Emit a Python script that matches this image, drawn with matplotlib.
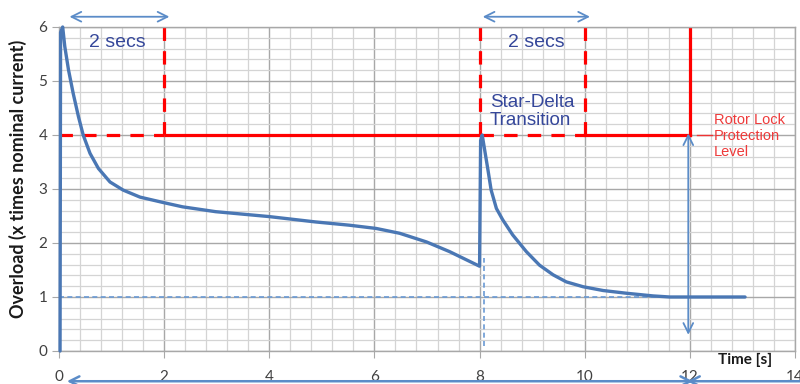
import matplotlib
matplotlib.use("Agg")
import matplotlib.pyplot as plt
from matplotlib.ticker import MultipleLocator

# ---- data ----
curve_x = [0.02, 0.03, 0.07, 0.11, 0.18, 0.27, 0.37, 0.46, 0.59, 0.75, 0.97, 1.22,
           1.54, 1.98, 2.35, 2.98, 3.99, 4.88, 5.52, 6.03, 6.48, 6.99, 7.43, 8.00,
           8.02, 8.05, 8.16, 8.22, 8.32, 8.44, 8.63, 8.89, 9.14, 9.40, 9.65, 9.97,
           10.35, 10.79, 11.30, 11.62, 13.05]
curve_y = [0.00, 5.90, 6.00, 5.64, 5.21, 4.77, 4.34, 4.00, 3.66, 3.38, 3.13, 2.98,
           2.85, 2.75, 2.67, 2.58, 2.49, 2.39, 2.33, 2.27, 2.18, 2.02, 1.84, 1.57,
           3.90, 4.00, 3.35, 2.98, 2.64, 2.43, 2.15, 1.84, 1.59, 1.41, 1.28, 1.19,
           1.12, 1.07, 1.02, 1.00, 1.00]

protection_level = 4
nominal_level = 1
window1 = (0, 2)        # first 2 s window
window2 = (8, 10)       # star-delta 2 s window
lock_time = 12
transition_time = 8.08
nominal_reach = 11.6

xticks = [0, 2, 4, 6, 8, 10, 12, 14]
yticks = [0, 1, 2, 3, 4, 5, 6]

W, H = 800, 384
fig = plt.figure(figsize=(W / 100, H / 100), dpi=100)
ax = fig.add_axes([59 / W, 33 / H, (795 - 59) / W, (351 - 27) / H])
ax.set_xlim(0, 14)
ax.set_ylim(0, 6)

# grid
ax.xaxis.set_major_locator(MultipleLocator(2))
ax.xaxis.set_minor_locator(MultipleLocator(0.4))
ax.yaxis.set_major_locator(MultipleLocator(1))
ax.yaxis.set_minor_locator(MultipleLocator(0.2))
ax.grid(which="major", color="#a8a8a8", lw=1.0)
ax.grid(which="minor", color="#d4d4d4", lw=0.9)
ax.set_axisbelow(True)
for s in ax.spines.values():
    s.set_color("#a8a8a8")
    s.set_linewidth(1.0)

ax.set_xticks(xticks)
ax.set_yticks(yticks)
ax.tick_params(which="minor", length=0)
ax.tick_params(which="major", length=5, color="#a8a8a8", labelsize=11,
               labelcolor="#404040")
ax.tick_params(axis="x", pad=9)
for lab in ax.get_xticklabels() + ax.get_yticklabels():
    lab.set_fontfamily("Lato")

red = "#ff0000"
lw_r = 2.3
dash = (4.2, 3.2)
# red protection level lines
ax.plot([window1[0], window1[1]], [protection_level] * 2, color=red, lw=lw_r, dashes=dash)
ax.plot([window1[1]] * 2, [protection_level, 6], color=red, lw=lw_r, dashes=dash)
ax.plot([window1[1], window2[0]], [protection_level] * 2, color=red, lw=lw_r,
        solid_capstyle="butt")
ax.plot([window2[0]] * 2, [protection_level, 6], color=red, lw=lw_r, dashes=dash)
ax.plot([window2[0], window2[1]], [protection_level] * 2, color=red, lw=lw_r, dashes=dash)
ax.plot([window2[1]] * 2, [protection_level, 6], color=red, lw=lw_r, dashes=dash)
ax.plot([window2[1], lock_time], [protection_level] * 2, color=red, lw=lw_r)
ax.plot([lock_time] * 2, [protection_level, 6], color=red, lw=lw_r)
ax.plot([12.13, 12.42], [protection_level] * 2, color="#ee3333", lw=1.0)

# blue thin dashed helpers
lb = "#6a9ad4"
ax.plot([0, nominal_reach], [nominal_level] * 2, color=lb, lw=1.2, dashes=(3, 2))
ax.plot([transition_time] * 2, [0.1, 1.72], color=lb, lw=1.2, dashes=(3, 2))

# curve
ax.plot(curve_x, curve_y, color="#4a77b4", lw=2.4, solid_joinstyle="round",
        solid_capstyle="round", clip_on=False, zorder=5)

# arrows
ac = "#5b8cc8"
aprops = dict(arrowstyle="<->,head_length=0.7,head_width=0.35", color=ac, lw=1.3,
              shrinkA=0, shrinkB=0)
ax.annotate("", xy=(0.2, 6.19), xytext=(2.1, 6.19), arrowprops=aprops,
            annotation_clip=False)
ax.annotate("", xy=(8.06, 6.19), xytext=(10.1, 6.19), arrowprops=aprops,
            annotation_clip=False)
ax.annotate("", xy=(11.97, 4.03), xytext=(11.97, 0.3), arrowprops=aprops,
            annotation_clip=False)
bprops = dict(arrowstyle="<->,head_length=0.7,head_width=0.35", color=ac, lw=1.8,
              shrinkA=0, shrinkB=0)
ax.annotate("", xy=(0.15, -0.56), xytext=(12.06, -0.56), arrowprops=bprops,
            annotation_clip=False)
ax.annotate("", xy=(11.95, -0.56), xytext=(15.5, -0.56), arrowprops=bprops,
            annotation_clip=False)

# texts
navy = "#35479a"
ax.text(1.1, 5.72, "2 secs", color=navy, fontsize=14, family="Liberation Sans",
        ha="center", va="center")
ax.text(9.07, 5.72, "2 secs", color=navy, fontsize=14, family="Liberation Sans",
        ha="center", va="center")
ax.text(8.2, 4.43, "Star-Delta\nTransition", color=navy, fontsize=13.5,
        family="Liberation Sans", ha="left", va="center", linespacing=1.05)
ax.text(12.46, 3.98, "Rotor Lock\nProtection\nLevel", color="#ee3a3a", fontsize=10.5,
        family="Liberation Sans", ha="left", va="center", linespacing=1.15)
ax.text(13.05, -0.17, "Time [s]", color="#1a1a1a", fontsize=11, family="Lato",
        fontweight="bold", ha="center", va="center", clip_on=False)
fig.text(18 / W, 1 - 179 / H, "Overload (x times nominal current)", rotation=90,
         color="#1a1a1a", fontsize=13, family="Lato", fontweight="bold",
         ha="center", va="center")

fig.savefig("out.png", dpi=100)
